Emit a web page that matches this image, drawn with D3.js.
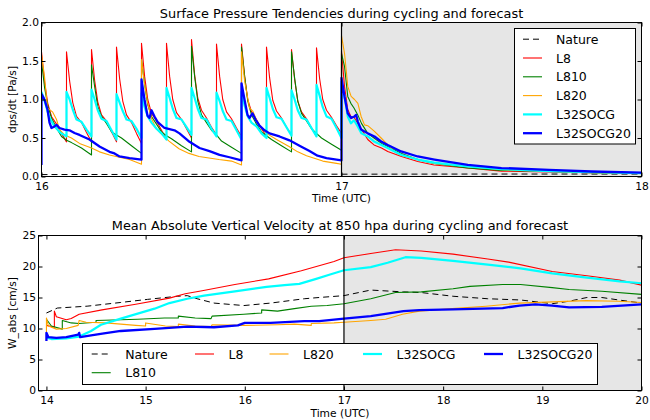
<!DOCTYPE html>
<html>
<head>
<meta charset="utf-8">
<script src="https://cdn.jsdelivr.net/npm/d3@7"></script>
<style>
  body { margin: 0; background: #fff; }
  svg { display: block; font-family: "DejaVu Sans", sans-serif; }
</style>
</head>
<body>
<div id="chart"></div>
<script>
// legend order
const seriesNames = ["Nature", "L8", "L810", "L820", "L32SOCG", "L32SOCG20"];

// ---- top panel: [hours after 16 UTC, dps/dt Pa/s]
const natureTop = [[0, 0.025], [12, 0.028], [24, 0.03], [36, 0.032], [48, 0.032]];

const l8Top = [
  [0, 1.62], [0.25, 1.22], [0.5, 0.95], [0.8, 0.78], [1.2, 0.68], [1.6, 0.56], [2, 0.45],
  [2, 1.62], [2.25, 1.24], [2.5, 0.96], [2.8, 0.78], [3.2, 0.70], [3.6, 0.57], [4, 0.45],
  [4, 1.65], [4.25, 1.25], [4.5, 0.97], [4.8, 0.80], [5.2, 0.72], [5.6, 0.58], [6, 0.45],
  [6, 1.68], [6.25, 1.27], [6.5, 0.98], [6.8, 0.80], [7.2, 0.70], [7.6, 0.56], [8, 0.43],
  [8, 1.73], [8.25, 1.30], [8.5, 1.0], [8.8, 0.82], [9.2, 0.72], [9.6, 0.60], [10, 0.48],
  [10, 1.73], [10.25, 1.30], [10.5, 1.0], [10.8, 0.83], [11.2, 0.74], [11.6, 0.62], [12, 0.50],
  [12, 1.78], [12.25, 1.32], [12.5, 1.02], [12.8, 0.86], [13.2, 0.76], [13.6, 0.64], [14, 0.54],
  [14, 1.72], [14.25, 1.30], [14.5, 1.0], [14.8, 0.84], [15.2, 0.75], [15.6, 0.63], [16, 0.52],
  [16, 1.72], [16.25, 1.30], [16.5, 1.0], [16.8, 0.84], [17.2, 0.74], [17.6, 0.62], [18, 0.52],
  [18, 1.68], [18.25, 1.28], [18.5, 0.99], [18.8, 0.85], [19.2, 0.76], [19.6, 0.64], [20, 0.54],
  [20, 1.65], [20.25, 1.26], [20.5, 0.98], [20.8, 0.84], [21.2, 0.75], [21.6, 0.63], [22, 0.52],
  [22, 1.67], [22.25, 1.27], [22.5, 1.0], [22.8, 0.86], [23.2, 0.77], [23.6, 0.66], [24, 0.56],
  [24, 1.63], [24.24, 1.17], [24.5, 0.87], [24.75, 0.78], [25, 0.77], [25.3, 0.69], [25.6, 0.61],
  [26.1, 0.48], [26.6, 0.41], [27.2, 0.37], [27.7, 0.325], [28.8, 0.26], [30.1, 0.195],
  [31.4, 0.15], [34.1, 0.11], [36.8, 0.07], [40.6, 0.06], [44, 0.05], [48, 0.04]
];

const l810Top = [
  [0, 1.49], [0.25, 1.15], [0.5, 0.92], [0.8, 0.76], [1.2, 0.63], [1.6, 0.52], [2, 0.47], [2.4, 0.44], [3.2, 0.37], [4, 0.28],
  [4, 1.45], [4.25, 1.17], [4.5, 0.91], [4.8, 0.78], [5.2, 0.69], [5.6, 0.58], [6, 0.54], [6.4, 0.50], [7.2, 0.40], [8, 0.30],
  [8, 1.52], [8.25, 1.2], [8.5, 0.93], [8.8, 0.78], [9.2, 0.68], [9.6, 0.58], [10, 0.53], [10.4, 0.49], [11.2, 0.40], [12, 0.32],
  [12, 1.69], [12.25, 1.3], [12.5, 0.98], [12.8, 0.80], [13.2, 0.70], [13.6, 0.60], [14, 0.54], [14.4, 0.46], [15.2, 0.38], [16, 0.30],
  [16, 1.68], [16.25, 1.3], [16.5, 0.98], [16.8, 0.80], [17.2, 0.68], [17.6, 0.58], [18, 0.53], [18.4, 0.48], [19.2, 0.40], [20, 0.32],
  [20, 1.62], [20.25, 1.28], [20.5, 0.98], [20.8, 0.82], [21.2, 0.72], [21.6, 0.62], [22, 0.56], [22.4, 0.50], [23.2, 0.42], [24, 0.34],
  [24, 1.60], [24.24, 1.43], [24.5, 1.04], [24.75, 0.95], [25, 0.89], [25.3, 0.80], [25.6, 0.69],
  [26.1, 0.56], [26.6, 0.50], [27.2, 0.43], [27.7, 0.39], [28.8, 0.30], [30.1, 0.22],
  [31.4, 0.17], [34.1, 0.11], [36.8, 0.08], [40.6, 0.065], [44, 0.05], [48, 0.04]
];

const l820Top = [
  [0, 1.58], [0.24, 1.3], [0.48, 0.89], [0.88, 0.84], [1.2, 0.74], [1.44, 0.61], [1.84, 0.54],
  [2.4, 0.50], [3.04, 0.43], [4, 0.37], [4.64, 0.32], [5.44, 0.28], [6.24, 0.25], [7.04, 0.22], [8, 0.16],
  [8, 1.52], [8.24, 1.2], [8.5, 0.95], [8.8, 0.75], [9.2, 0.62], [9.6, 0.55], [10.2, 0.46],
  [11, 0.36], [11.8, 0.30], [12.6, 0.26], [14.2, 0.22], [15.2, 0.2], [16, 0.15],
  [16, 1.62], [16.24, 1.25], [16.64, 0.89], [16.9, 0.85], [17.4, 0.66], [18, 0.56], [18.8, 0.48],
  [19.8, 0.39], [20.5, 0.32], [21.2, 0.27], [22.5, 0.2], [23.6, 0.17], [24, 0.16],
  [24, 1.83], [24.24, 1.6], [24.4, 1.34], [24.5, 1.17], [24.77, 1.04], [25.04, 1.0], [25.31, 0.95],
  [25.57, 0.78], [25.84, 0.67], [26.1, 0.66], [26.64, 0.585], [27.17, 0.50], [27.7, 0.41],
  [28.24, 0.325], [28.77, 0.28], [30.1, 0.22], [31.44, 0.17], [34.1, 0.13], [36.8, 0.087],
  [40.6, 0.065], [44, 0.05], [48, 0.04]
];

const l32socgTop = [
  [0, 1.10], [0.25, 0.98], [0.6, 0.78], [1.0, 0.66], [1.5, 0.57], [2, 0.52],
  [2, 1.10], [2.25, 1.0], [2.5, 0.87], [2.8, 0.74], [3.2, 0.71], [3.6, 0.61], [4, 0.52],
  [4, 1.13], [4.25, 1.0], [4.5, 0.86], [4.8, 0.75], [5.2, 0.72], [5.6, 0.60], [6, 0.48],
  [6, 1.07], [6.25, 0.96], [6.5, 0.85], [6.8, 0.74], [7.2, 0.72], [7.6, 0.62], [8, 0.50],
  [8, 1.08], [8.25, 0.90], [8.5, 0.78], [8.8, 0.70], [9.2, 0.62], [9.6, 0.56], [10, 0.48],
  [10, 1.15], [10.25, 1.02], [10.5, 0.88], [10.8, 0.76], [11.2, 0.74], [11.6, 0.64], [12, 0.54],
  [12, 1.15], [12.25, 1.02], [12.5, 0.88], [12.8, 0.76], [13.2, 0.74], [13.6, 0.62], [14, 0.52],
  [14, 1.09], [14.25, 0.98], [14.5, 0.85], [14.8, 0.74], [15.2, 0.72], [15.6, 0.6], [16, 0.48],
  [16, 1.10], [16.25, 0.92], [16.5, 0.78], [16.8, 0.70], [17.2, 0.65], [17.6, 0.56], [18, 0.50],
  [18, 1.15], [18.25, 1.02], [18.5, 0.88], [18.8, 0.77], [19.2, 0.75], [19.6, 0.64], [20, 0.53],
  [20, 1.12], [20.25, 1.0], [20.5, 0.86], [20.8, 0.76], [21.2, 0.74], [21.6, 0.63], [22, 0.52],
  [22, 1.19], [22.25, 1.05], [22.5, 0.9], [22.8, 0.78], [23.2, 0.75], [23.6, 0.63], [24, 0.50],
  [24, 1.23], [24.24, 1.04], [24.5, 0.78], [24.75, 0.69], [25, 0.73], [25.3, 0.65], [25.6, 0.56],
  [26.1, 0.52], [26.6, 0.455], [27.2, 0.41], [27.7, 0.37], [28.8, 0.28], [30.1, 0.22],
  [31.4, 0.18], [34.1, 0.13], [36.8, 0.096], [40.6, 0.07], [44, 0.055], [48, 0.045]
];

const l32socg20Top = [
  [0, 0.15], [0, 1.07], [0.24, 1.0], [0.48, 0.87], [0.64, 0.70], [0.8, 0.63], [1.04, 0.65], [1.2, 0.67],
  [1.44, 0.63], [1.84, 0.61], [2.24, 0.60], [2.64, 0.565], [3.04, 0.54], [3.84, 0.48], [4.64, 0.39],
  [5.44, 0.32], [5.84, 0.30], [6.24, 0.26], [7.04, 0.24], [8, 0.22],
  [8, 1.26], [8.24, 1.0], [8.48, 0.79], [8.64, 0.76], [8.8, 0.86], [9.04, 0.78], [9.28, 0.71],
  [9.84, 0.63], [10.64, 0.60], [11.04, 0.56], [11.84, 0.45], [12.64, 0.37], [13.44, 0.33],
  [14.24, 0.28], [15.04, 0.25], [16, 0.21],
  [16, 1.21], [16.24, 1.0], [16.48, 0.8], [16.64, 0.76], [16.88, 0.82], [17.12, 0.74], [17.44, 0.66],
  [17.84, 0.60], [18.24, 0.56], [19.04, 0.52], [19.84, 0.47], [20.64, 0.40], [21.44, 0.33],
  [22.08, 0.27], [22.8, 0.24], [24, 0.21],
  [24, 1.28], [24.24, 1.04], [24.5, 0.82], [24.77, 0.76], [25.04, 0.78], [25.17, 0.80], [25.31, 0.71],
  [25.57, 0.61], [26.1, 0.56], [26.64, 0.52], [27.17, 0.455], [27.7, 0.41], [28.77, 0.325],
  [30.1, 0.26], [31.44, 0.22], [34.1, 0.15], [36.8, 0.11], [40.6, 0.087], [44, 0.065], [48, 0.05]
];

// ---- bottom panel: [day (UTC), W_abs cm/s]
const natureW = [
  [14.0, 12.5], [14.11, 13.3], [14.41, 13.6], [14.75, 14.2], [15.02, 14.7], [15.32, 15.2], [15.42, 15.3],
  [15.52, 14.8], [15.69, 14.1], [15.99, 13.7], [16.26, 14.1], [16.6, 14.8], [16.75, 15.0], [17, 15.3],
  [17.27, 16.2], [17.6, 15.9], [17.78, 15.8], [18.1, 15.2], [18.45, 14.8], [18.78, 14.6], [19.1, 14.0],
  [19.27, 14.4], [19.45, 15.0], [19.6, 15.0], [19.77, 14.6], [20, 14.1]
];

const l8W = [
  [14.0, 10.5], [14.08, 10.2], [14.08, 12.8], [14.1, 11.9], [14.2, 11.4], [14.25, 11.6], [14.33, 12.3],
  [14.56, 13.0], [14.9, 13.9], [15.24, 14.9], [15.4, 15.6], [15.57, 16.1], [15.9, 17.1], [16.24, 18.0],
  [16.57, 19.3], [16.9, 20.8], [17.0, 21.4], [17.27, 22.1], [17.52, 22.7], [17.78, 22.5], [18.1, 22.0],
  [18.45, 21.2], [18.66, 20.7], [19.1, 19.2], [19.45, 18.5], [19.78, 17.8], [20, 17.0]
];

const l810W = [
  [14.0, 11.5], [14.05, 10.4], [14.16, 9.9], [14.16, 11.3], [14.25, 10.9], [14.33, 10.8], [14.5, 11.0],
  [14.5, 11.3], [14.92, 11.5], [15.19, 11.7], [15.33, 11.7], [15.33, 12.0], [15.5, 11.7], [15.66, 11.6],
  [15.67, 12.0], [15.99, 12.3], [16.17, 12.5], [16.17, 13.0], [16.33, 12.8], [16.5, 13.2], [16.67, 13.6],
  [16.83, 13.7], [17.0, 14.0], [17.27, 14.8], [17.52, 15.8], [17.78, 15.9], [18.1, 16.4], [18.27, 16.8],
  [18.6, 17.1], [18.78, 17.1], [19.1, 16.6], [19.27, 16.3], [19.6, 16.0], [20, 15.5]
];

const l820W = [
  [14.0, 8.0], [14.0, 11.7], [14.02, 10.4], [14.1, 9.9], [14.2, 10.0], [14.32, 10.5], [14.33, 11.3],
  [14.4, 11.0], [14.6, 10.9], [14.9, 10.5], [15.0, 10.4], [15.0, 10.9], [15.2, 10.4], [15.33, 10.3],
  [15.33, 10.7], [15.5, 10.4], [15.66, 10.3], [15.67, 10.6], [16.0, 10.5], [16.33, 10.6], [16.5, 10.7],
  [16.67, 10.5], [16.67, 10.8], [16.9, 10.9], [17.0, 11.0], [17.27, 11.3], [17.42, 11.5], [17.59, 12.3],
  [17.76, 12.8], [18.09, 13.2], [18.43, 13.6], [18.77, 14.1], [19.1, 14.3], [19.44, 14.5], [19.77, 14.4],
  [20, 14.2]
];

const l32socgW = [
  [14.0, 8.5], [14.05, 8.3], [14.2, 8.4], [14.33, 8.7], [14.45, 9.6], [14.55, 10.6], [14.75, 11.6],
  [14.92, 12.4], [15.09, 13.2], [15.24, 14.1], [15.42, 14.8], [15.59, 15.3], [15.9, 16.0], [16.22, 16.7],
  [16.4, 17.0], [16.55, 17.2], [16.72, 18.0], [16.86, 18.7], [17.0, 19.4], [17.27, 19.9], [17.44, 20.6],
  [17.62, 21.5], [17.78, 21.4], [18.1, 20.9], [18.45, 20.3], [18.78, 19.7], [19.1, 18.9], [19.45, 18.2],
  [19.78, 17.6], [20, 17.3]
];

const l32socg20W = [
  [14.0, 8.0], [14.0, 9.3], [14.02, 8.6], [14.1, 8.5], [14.2, 8.6], [14.32, 9.0], [14.33, 9.3],
  [14.34, 8.6], [14.45, 8.9], [14.58, 9.2], [14.75, 9.6], [15.09, 9.95], [15.42, 10.3], [15.69, 10.2],
  [15.93, 10.5], [16.0, 10.9], [16.26, 10.9], [16.6, 11.2], [16.75, 11.2], [17.0, 11.6], [17.27, 12.0],
  [17.6, 12.8], [17.76, 12.95], [18.1, 13.1], [18.6, 13.3], [18.77, 13.7], [18.93, 13.9], [19.1, 13.7],
  [19.27, 13.4], [19.6, 13.5], [20, 13.9]
];

// ticks
const topXTicks = [16, 17, 18];
const topYTicks = [0, 0.5, 1, 1.5, 2];
const botXTicks = [14, 15, 16, 17, 18, 19, 20];
const botYTicks = [0, 5, 10, 15, 20, 25];
const forecastStart = 17;

// line styles per series
const lineStyle = {
  Nature:    { color: "#000000", width: 1,   dash: "6,4" },
  L8:        { color: "#ff0000", width: 1.1, dash: null },
  L810:      { color: "#008000", width: 1.1, dash: null },
  L820:      { color: "#ffa500", width: 1.1, dash: null },
  L32SOCG:   { color: "#00ffff", width: 2.2, dash: null },
  L32SOCG20: { color: "#0000ff", width: 2.3, dash: null },
};

const width = 650, height = 420;
const tickFont = 10.7, titleFont = 12.9, legendFont = 12.5;

const svg = d3.select("#chart").append("svg")
  .attr("width", width)
  .attr("height", height)
  .attr("viewBox", [0, 0, width, height]);

function drawPanel({ id, series, xValue, xDomain, yDomain, xTicks, yTicks, yFormat,
                     left, right, top, bottom, title, titleY, ylabel, xlabelY }) {
  const x = d3.scaleLinear(xDomain, [left, right]);
  const y = d3.scaleLinear(yDomain, [bottom, top]);
  const g = svg.append("g");

  // forecast shading
  g.append("rect")
    .attr("x", x(forecastStart)).attr("y", top)
    .attr("width", right - x(forecastStart)).attr("height", bottom - top)
    .attr("fill", "#e6e6e6");

  svg.append("clipPath").attr("id", id)
    .append("rect")
    .attr("x", left).attr("y", top)
    .attr("width", right - left).attr("height", bottom - top);

  const line = d3.line().x((d) => x(xValue(d))).y((d) => y(d[1]));

  g.append("g")
    .attr("clip-path", `url(#${id})`)
    .selectAll("path")
    .data(series)
    .join("path")
    .attr("d", (s) => line(s.values))
    .attr("fill", "none")
    .attr("stroke", (s) => lineStyle[s.name].color)
    .attr("stroke-width", (s) => lineStyle[s.name].width)
    .attr("stroke-dasharray", (s) => lineStyle[s.name].dash)
    .attr("stroke-linejoin", "round");

  // start of forecast
  g.append("line")
    .attr("x1", x(forecastStart)).attr("x2", x(forecastStart))
    .attr("y1", top).attr("y2", bottom)
    .attr("stroke", "#000").attr("stroke-width", 1.2);

  // axes, ticks inward on all four sides
  const styleAxis = (a) => a
    .attr("font-family", "DejaVu Sans")
    .attr("font-size", tickFont)
    .call((a) => a.select(".domain").remove());

  g.append("g")
    .attr("transform", `translate(0,${bottom})`)
    .call(d3.axisBottom(x).tickValues(xTicks).tickFormat(d3.format("d"))
      .tickSizeInner(-4).tickSizeOuter(0).tickPadding(5.5))
    .call(styleAxis);
  g.append("g")
    .attr("transform", `translate(0,${top})`)
    .call(d3.axisTop(x).tickValues(xTicks).tickFormat("")
      .tickSizeInner(-4).tickSizeOuter(0))
    .call(styleAxis);
  g.append("g")
    .attr("transform", `translate(${left},0)`)
    .call(d3.axisLeft(y).tickValues(yTicks).tickFormat(yFormat)
      .tickSizeInner(-4).tickSizeOuter(0).tickPadding(2.5))
    .call(styleAxis);
  g.append("g")
    .attr("transform", `translate(${right},0)`)
    .call(d3.axisRight(y).tickValues(yTicks).tickFormat("")
      .tickSizeInner(-4).tickSizeOuter(0))
    .call(styleAxis);

  // frame
  g.append("rect")
    .attr("x", left).attr("y", top)
    .attr("width", right - left).attr("height", bottom - top)
    .attr("fill", "none").attr("stroke", "#000").attr("stroke-width", 1);

  g.append("text")
    .attr("x", (left + right) / 2).attr("y", titleY)
    .attr("text-anchor", "middle")
    .attr("font-size", titleFont)
    .text(title);

  g.append("text")
    .attr("x", (left + right) / 2).attr("y", xlabelY)
    .attr("text-anchor", "middle")
    .attr("font-size", tickFont)
    .text("Time (UTC)");

  g.append("text")
    .attr("transform", `translate(15.5,${(top + bottom) / 2}) rotate(-90)`)
    .attr("text-anchor", "middle")
    .attr("font-size", tickFont)
    .text(ylabel);

  return g;
}

function legendEntry(g, name, lx, ly, tx) {
  const s = lineStyle[name];
  g.append("line")
    .attr("x1", lx).attr("x2", lx + 19)
    .attr("y1", ly).attr("y2", ly)
    .attr("stroke", s.color)
    .attr("stroke-width", s.width)
    .attr("stroke-dasharray", s.dash);
  g.append("text")
    .attr("x", tx).attr("y", ly)
    .attr("dy", "0.36em")
    .attr("font-size", legendFont)
    .text(name);
}

// ---- top panel
const topSeries = [natureTop, l8Top, l810Top, l820Top, l32socgTop, l32socg20Top]
  .map((values, i) => ({ name: seriesNames[i], values }));

const gTop = drawPanel({
  id: "clipTop",
  series: topSeries,
  xValue: (d) => 16 + d[0] / 24,
  xDomain: [16, 18],
  yDomain: [0, 2],
  xTicks: topXTicks,
  yTicks: topYTicks,
  yFormat: d3.format(".1f"),
  left: 41.5, right: 641.5, top: 22.5, bottom: 176.5,
  title: "Surface Pressure Tendencies during cycling and forecast",
  titleY: 18,
  ylabel: "dps/dt  [Pa/s]",
  xlabelY: 202,
});

const legTop = gTop.append("g");
legTop.append("rect")
  .attr("x", 514.5).attr("y", 28.5).attr("width", 121).attr("height", 115.5)
  .attr("fill", "#fff").attr("stroke", "#000").attr("stroke-width", 1);
seriesNames.forEach((name, i) => legendEntry(legTop, name, 523, 39.2 + i * 18.8, 556));

// ---- bottom panel
const botSeries = [natureW, l8W, l810W, l820W, l32socgW, l32socg20W]
  .map((values, i) => ({ name: seriesNames[i], values }));

const gBot = drawPanel({
  id: "clipBot",
  series: botSeries,
  xValue: (d) => d[0],
  xDomain: [13.92, 20],
  yDomain: [0, 25],
  xTicks: botXTicks,
  yTicks: botYTicks,
  yFormat: d3.format("d"),
  left: 38.5, right: 641.5, top: 235.5, bottom: 390.5,
  title: "Mean Absolute Vertical Velocity at 850 hpa during cycling and forecast",
  titleY: 229.5,
  ylabel: "W_abs [cm/s]",
  xlabelY: 417,
});

// legend in 5 columns, L810 wraps under Nature
const legCols = [91.7, 195, 269.5, 363, 484];
const legSlots = [[0, 0], [1, 0], [0, 1], [2, 0], [3, 0], [4, 0]];
const legBot = gBot.append("g");
legBot.append("rect")
  .attr("x", 82.5).attr("y", 343.5).attr("width", 515).attr("height", 41)
  .attr("fill", "#fff").attr("stroke", "#000").attr("stroke-width", 1);
seriesNames.forEach((name, i) => {
  const [c, r] = legSlots[i];
  legendEntry(legBot, name, legCols[c], 354 + r * 18.7, legCols[c] + 33.5);
});
</script>
</body>
</html>
